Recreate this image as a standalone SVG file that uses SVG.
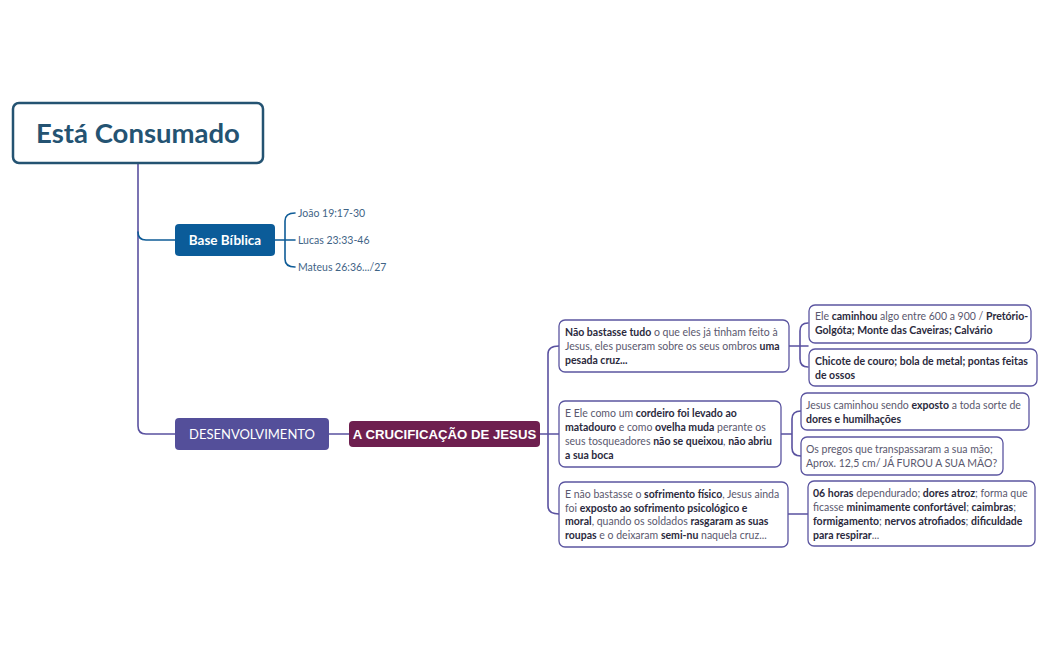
<svg xmlns="http://www.w3.org/2000/svg" width="1049" height="650" viewBox="0 0 1049 650">
<style>
text{font-family:Lato,"Noto Sans",sans-serif}
.c{fill:none;stroke-width:1.6;stroke-linecap:round}
.p{stroke:#5a52a0}
.bl{stroke:#0f5c97}
.box{fill:#fff;stroke:#5b55a0;stroke-width:1.3}
.t{font-size:10.5px;fill:#5a586e}
.b{font-weight:bold;fill:#2b2a3d}
.leaf{font-size:10.5px;fill:#3f6486}
</style>
<rect width="1049" height="650" fill="#fff"/>
<g id="connectors">
<path class="c p" d="M138,163 V426 Q138,434 146,434 H175" stroke-width="2"/>
<path class="c bl" d="M138,232 Q138,240 146,240 H175" stroke-width="2"/>
<path class="c bl" d="M275,240 H295 M295,213 Q285,213 285,221 V259 Q285,267 295,267"/>
<path class="c p" d="M329,434 H349"/>
<path class="c p" d="M540,434 H559 M559,346 Q548,346 548,354 V506 Q548,514 559,514"/>
<path class="c p" d="M789,346 H808 M808,323 Q800,323 800,331 V359 Q800,367 808,367"/>
<path class="c p" d="M781,434 H792 M801,411 Q792,411 792,419 V448 Q792,456 801,456"/>
<path class="c p" d="M788,514 H808"/>
</g>
<g id="root">
<rect x="13" y="103" width="250" height="60" rx="6" fill="#fff" stroke="#245372" stroke-width="2.5"/>
<text x="138" y="143" text-anchor="middle" font-size="27.5" font-weight="bold" fill="#245372">Está Consumado</text>
</g>
<g id="base">
<rect x="175" y="224" width="100" height="32" rx="4" fill="#0b5c99"/>
<text x="225" y="245" text-anchor="middle" font-size="13.5" font-weight="bold" fill="#fff">Base Bíblica</text>
</g>
<g id="leaf1"><text class="leaf" x="298" y="216.5">João 19:17-30</text></g>
<g id="leaf2"><text class="leaf" x="298" y="243.5">Lucas 23:33-46</text></g>
<g id="leaf3"><text class="leaf" x="298" y="270.5">Mateus 26:36.../27</text></g>
<g id="desenvolvimento">
<rect x="175" y="418" width="154" height="32" rx="4" fill="#544f9a"/>
<text x="252" y="439" text-anchor="middle" font-size="13" fill="#fff">DESENVOLVIMENTO</text>
</g>
<g id="crucificacao">
<rect x="349" y="421" width="191" height="26" rx="4" fill="#6e1f4f"/>
<text x="444.5" y="439" text-anchor="middle" font-size="13.2" font-weight="bold" fill="#fff" style="font-family:'Liberation Sans',Arial,sans-serif">A CRUCIFICAÇÃO DE JESUS</text>
</g>
<g id="box1">
<rect class="box" x="559" y="320" width="230" height="52" rx="6"/>
<text class="t" x="565" y="335.5"><tspan class="b">Não bastasse tudo</tspan> o que eles já tinham feito à</text>
<text class="t" x="565" y="349.5">Jesus, eles puseram sobre os seus ombros <tspan class="b">uma</tspan></text>
<text class="t" x="565" y="363.5"><tspan class="b">pesada cruz...</tspan></text>
</g>
<g id="box1a">
<rect class="box" x="809" y="305" width="222" height="38" rx="6"/>
<text class="t" x="815" y="319.5">Ele <tspan class="b">caminhou</tspan> algo entre 600 a 900 / <tspan class="b">Pretório-</tspan></text>
<text class="t" x="815" y="333.5"><tspan class="b">Golgóta; Monte das Caveiras; Calvário</tspan></text>
</g>
<g id="box1b">
<rect class="box" x="809" y="349" width="228" height="37" rx="6"/>
<text class="t" x="815" y="364.5"><tspan class="b">Chicote de couro; bola de metal; pontas feitas</tspan></text>
<text class="t" x="815" y="378.5"><tspan class="b">de ossos</tspan></text>
</g>
<g id="box2">
<rect class="box" x="559" y="401" width="222" height="66" rx="6"/>
<text class="t" x="565" y="416.5">E Ele como um <tspan class="b">cordeiro foi levado ao</tspan></text>
<text class="t" x="565" y="430.5"><tspan class="b">matadouro</tspan> e como <tspan class="b">ovelha muda</tspan> perante os</text>
<text class="t" x="565" y="444.5">seus tosqueadores <tspan class="b">não se queixou</tspan>, <tspan class="b">não abriu</tspan></text>
<text class="t" x="565" y="458.5"><tspan class="b">a sua boca</tspan></text>
</g>
<g id="box2a">
<rect class="box" x="801" y="393" width="228" height="37" rx="6"/>
<text class="t" x="806" y="408.5">Jesus caminhou sendo <tspan class="b">exposto</tspan> a toda sorte de</text>
<text class="t" x="806" y="422.5"><tspan class="b">dores e humilhações</tspan></text>
</g>
<g id="box2b">
<rect class="box" x="801" y="437" width="202" height="38" rx="6"/>
<text class="t" x="806" y="452.5">Os pregos que transpassaram a sua mão;</text>
<text class="t" x="806" y="466.5">Aprox. 12,5 cm/ JÁ FUROU A SUA MÃO?</text>
</g>
<g id="box3">
<rect class="box" x="559" y="482" width="229" height="65" rx="6"/>
<text class="t" x="565" y="497.5">E não bastasse o <tspan class="b">sofrimento físico</tspan>, Jesus ainda</text>
<text class="t" x="565" y="511.5">foi <tspan class="b">exposto ao sofrimento psicológico e</tspan></text>
<text class="t" x="565" y="524.5"><tspan class="b">moral</tspan>, quando os soldados <tspan class="b">rasgaram as suas</tspan></text>
<text class="t" x="565" y="538.5"><tspan class="b">roupas</tspan> e o deixaram <tspan class="b">semi-nu</tspan> naquela cruz...</text>
</g>
<g id="box3a">
<rect class="box" x="808" y="481" width="227" height="65" rx="6"/>
<text class="t" x="813" y="496.5"><tspan class="b">06 horas</tspan> dependurado; <tspan class="b">dores atroz</tspan>; forma que</text>
<text class="t" x="813" y="510.5">ficasse <tspan class="b">minimamente confortável</tspan>; <tspan class="b">caimbras</tspan>;</text>
<text class="t" x="813" y="524.5"><tspan class="b">formigamento</tspan>; <tspan class="b">nervos atrofiados</tspan>; <tspan class="b">dificuldade</tspan></text>
<text class="t" x="813" y="538.5"><tspan class="b">para respirar</tspan>...</text>
</g>
</svg>
